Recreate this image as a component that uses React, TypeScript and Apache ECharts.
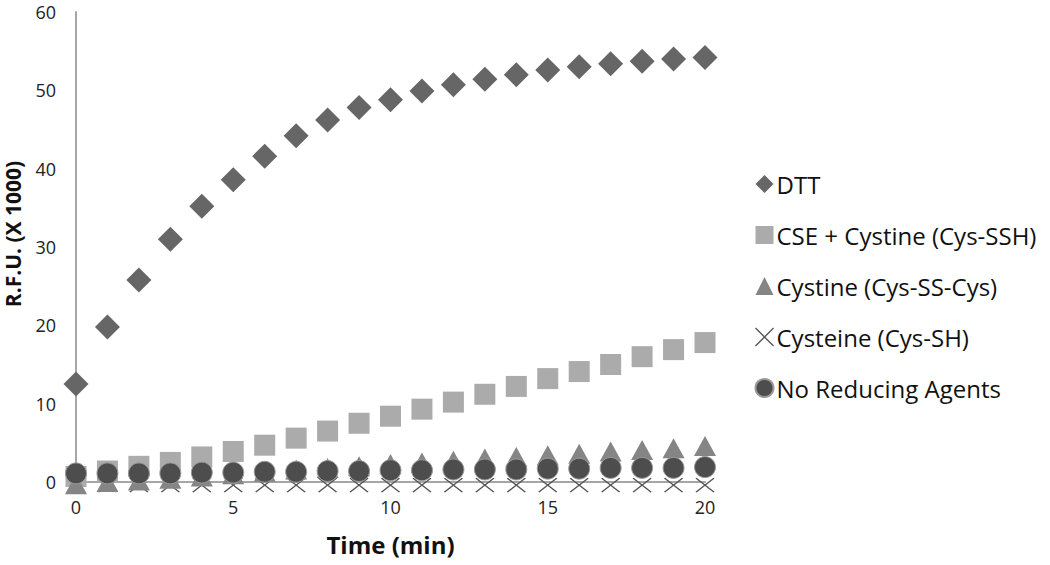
import React, { useEffect, useRef } from "react";
import * as echarts from "echarts";

const times = [0, 1, 2, 3, 4, 5, 6, 7, 8, 9, 10, 11, 12, 13, 14, 15, 16, 17, 18, 19, 20];
const dtt = [12.5, 19.8, 25.8, 31.0, 35.2, 38.6, 41.6, 44.2, 46.2, 47.8, 48.8, 49.9, 50.7, 51.4, 52.0, 52.6, 53.0, 53.4, 53.7, 54.0, 54.2];
const cse = [0.7, 1.4, 2.0, 2.5, 3.2, 3.9, 4.7, 5.6, 6.5, 7.5, 8.4, 9.3, 10.2, 11.2, 12.2, 13.2, 14.1, 15.0, 16.0, 16.9, 17.8];
const cystine = [-0.3, 0.0, 0.2, 0.4, 0.7, 1.0, 1.3, 1.6, 1.8, 2.0, 2.3, 2.5, 2.7, 3.0, 3.2, 3.4, 3.6, 3.9, 4.1, 4.3, 4.6];
const cysteine = [-0.4, -0.4, -0.4, -0.4, -0.4, -0.4, -0.4, -0.4, -0.4, -0.4, -0.4, -0.4, -0.4, -0.4, -0.4, -0.4, -0.4, -0.4, -0.4, -0.4, -0.4];
const noReducing = [1.1, 1.1, 1.1, 1.1, 1.2, 1.2, 1.3, 1.3, 1.4, 1.4, 1.5, 1.5, 1.6, 1.6, 1.6, 1.7, 1.7, 1.8, 1.8, 1.8, 1.9];
const seriesNames = ["DTT", "CSE + Cystine (Cys-SSH)", "Cystine (Cys-SS-Cys)", "Cysteine (Cys-SH)", "No Reducing Agents"];

const FONT = "'Open Sans', Lato, sans-serif";
const CROSS = "path://M0,0L10,10M10,0L0,10";

const pair = (ys: number[]) => times.map((t, i) => [t, ys[i]]);

export default function App() {
  const ref = useRef<HTMLDivElement>(null);
  useEffect(() => {
    if (!ref.current) return;
    const chart = echarts.init(ref.current, null, { renderer: "svg" });
    chart.setOption({
      animation: false,
      backgroundColor: "#ffffff",
      grid: { left: 76, right: 345, top: 12, bottom: 83, containLabel: false, outerBoundsMode: "none" },
      xAxis: {
        type: "value",
        min: 0,
        max: 20,
        interval: 5,
        name: "Time (min)",
        nameLocation: "middle",
        nameGap: 50,
        nameTextStyle: { fontFamily: FONT, fontSize: 24, fontWeight: "bold", color: "#111" },
        axisLine: { show: true, onZero: false, lineStyle: { color: "#a6a6a6", width: 2 } },
        axisTick: { show: false },
        splitLine: { show: false },
        axisLabel: { fontFamily: FONT, fontSize: 18, color: "#222", margin: 16 },
      },
      yAxis: {
        type: "value",
        min: 0,
        max: 60,
        interval: 10,
        name: "R.F.U. (X 1000)",
        nameLocation: "middle",
        nameGap: 49,
        nameTextStyle: { fontFamily: FONT, fontSize: 21, fontWeight: "bold", color: "#111", padding: [0, 0, 0, 26], lineHeight: 24 },
        axisLine: { show: true, lineStyle: { color: "#a6a6a6", width: 2 } },
        axisTick: { show: false },
        splitLine: { show: false },
        axisLabel: { fontFamily: FONT, fontSize: 18, color: "#222", margin: 20 },
      },
      legend: {
        orient: "vertical",
        left: 748,
        top: 167,
        itemGap: 27,
        itemWidth: 18,
        itemHeight: 18,
        textStyle: { fontFamily: FONT, fontSize: 24, color: "#111", padding: [0, 0, 0, -2] },
        data: seriesNames.map((n, i) =>
          i === 3
            ? { name: n, itemStyle: { color: "none", borderColor: "#555", borderWidth: 1.3 } }
            : { name: n }
        ),
      },
      series: [
        {
          name: seriesNames[4],
          type: "scatter",
          clip: false,
          z: 5,
          data: pair(noReducing),
          symbol: "circle",
          symbolSize: 21,
          itemStyle: { color: "#4d4d4d", borderColor: "#9a9a9a", borderWidth: 1, opacity: 1 },
        },
        {
          name: seriesNames[3],
          type: "scatter",
          clip: false,
          z: 1,
          data: pair(cysteine),
          symbol: CROSS,
          symbolSize: [18, 14],
          itemStyle: { color: "none", borderColor: "#555555", borderWidth: 1.5, opacity: 1 },
        },
        {
          name: seriesNames[2],
          type: "scatter",
          clip: false,
          z: 3,
          data: pair(cystine),
          symbol: "triangle",
          symbolSize: [22, 20],
          itemStyle: { color: "#858585", opacity: 1 },
        },
        {
          name: seriesNames[1],
          type: "scatter",
          clip: false,
          z: 2,
          data: pair(cse),
          symbol: "rect",
          symbolSize: 21,
          itemStyle: { color: "#ababab", opacity: 1 },
        },
        {
          name: seriesNames[0],
          type: "scatter",
          clip: false,
          z: 4,
          data: pair(dtt),
          symbol: "diamond",
          symbolSize: 25,
          itemStyle: { color: "#666666", opacity: 1 },
        },
      ],
    });
    return () => chart.dispose();
  }, []);
  return <div ref={ref} style={{ width: 1050, height: 565, position: "absolute", left: 0, top: 0 }} />;
}
